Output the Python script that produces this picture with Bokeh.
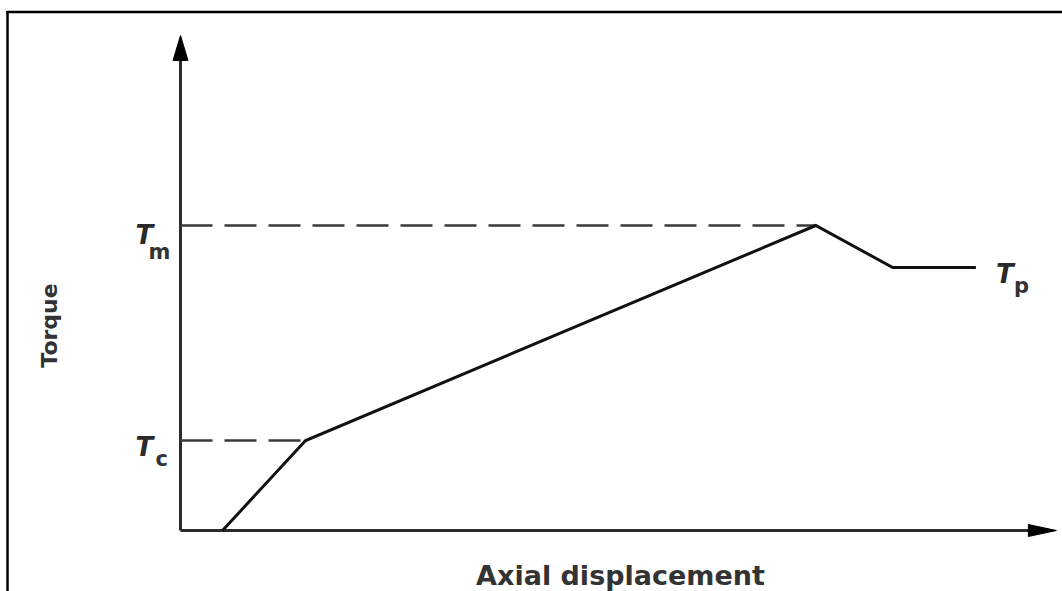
import math
from bokeh.plotting import figure
from bokeh.models import Range1d
from bokeh.core.properties import value
from bokeh.embed import file_html
from bokeh.resources import INLINE

# ---- data (arbitrary units) ----
displacement = [4.8, 14.3, 72.6, 81.4, 90.9]
torque = [0.0, 18.0, 61.0, 52.6, 52.6]
level_names = ["c", "m"]          # T_c, T_m
level_values = [18.0, 61.0]
level_ends = [14.3, 72.6]
plateau_name = "p"                # T_p
axis_x_max = 100.1
axis_y_max = 99.0
x_label = "Axial displacement"
y_label = "Torque"

# ---- layout ----
W, H = 1062, 591
PX_X = 8.75   # pixels per displacement unit
PX_Y = 5.0    # pixels per torque unit
X0, Y0 = 180, 530  # origin in figure pixels


def dx(px):
    return (px - X0) / PX_X


def dy(py):
    return (Y0 - py) / PX_Y


p = figure(width=W, height=H, output_backend="svg", toolbar_location=None,
           x_range=Range1d(dx(0), dx(W)), y_range=Range1d(dy(H), dy(0)),
           x_axis_location=None, y_axis_location=None, min_border=0)
p.grid.visible = False
p.outline_line_color = None
p.background_fill_color = "white"
p.border_fill_color = "white"

# frame border (left and top edges only)
p.segment(x0=[dx(7), dx(6)], y0=[dy(10.5), dy(11.5)], x1=[dx(7), dx(W)], y1=[dy(H), dy(11.5)],
          line_width=2.5, line_color="black")

# axes
ax_col = "#2b2b2b"
p.line([0, 0], [0, axis_y_max - 20 / PX_Y], line_width=3, line_color=ax_col)
p.line([0, axis_x_max - 20 / PX_X], [0, 0], line_width=3, line_color=ax_col)
# arrow heads
p.patches(
    xs=[[0, -7.5 / PX_X, 7.5 / PX_X],
        [axis_x_max, axis_x_max - 28 / PX_X, axis_x_max - 28 / PX_X]],
    ys=[[axis_y_max, axis_y_max - 25 / PX_Y, axis_y_max - 25 / PX_Y],
        [0, 6 / PX_Y, -6 / PX_Y]],
    fill_color="black", line_color="black", line_width=1)

# dashed reference levels
p.segment(x0=[0] * len(level_values), y0=level_values, x1=level_ends, y1=level_values,
          line_dash="32 12", line_width=2.5, line_color="#3a3a3a")

# torque curve
p.line(displacement, torque, line_width=3, line_color="#111111", line_join="miter")

txt_col = "#2a2a2a"
# T letters
p.text(x=[0, 0, displacement[-1]], y=[level_values[0], level_values[1], torque[-1]],
       text=["T", "T", "T"], x_offset=[-45, -45, 20], y_offset=[6, 9, 6],
       text_font=value("DejaVu Sans"), text_font_style="bold italic",
       text_font_size="26px", text_baseline="alphabetic", text_align="left",
       text_color=txt_col)
# subscripts
p.text(x=[0, 0, displacement[-1]], y=[level_values[0], level_values[1], torque[-1]],
       text=[level_names[0], level_names[1], plateau_name],
       x_offset=[-25, -32, 38], y_offset=[18, 26, 18],
       text_font=value("DejaVu Sans"), text_font_style="bold", text_font_size="21px",
       text_baseline="alphabetic", text_align="left", text_color="#333333")

# axis titles
p.text(x=[dx(49)], y=[dy(325)], text=[y_label], angle=math.pi / 2,
       text_font=value("DejaVu Sans"), text_font_style="bold", text_font_size="22px",
       text_align="center", text_baseline="middle", text_color="#333333")
p.text(x=[dx(620)], y=[dy(575)], text=[x_label],
       text_font=value("DejaVu Sans"), text_font_style="bold", text_font_size="27px",
       text_align="center", text_baseline="middle", text_color="#333333")

open("out.html", "w").write(file_html(p, INLINE))
